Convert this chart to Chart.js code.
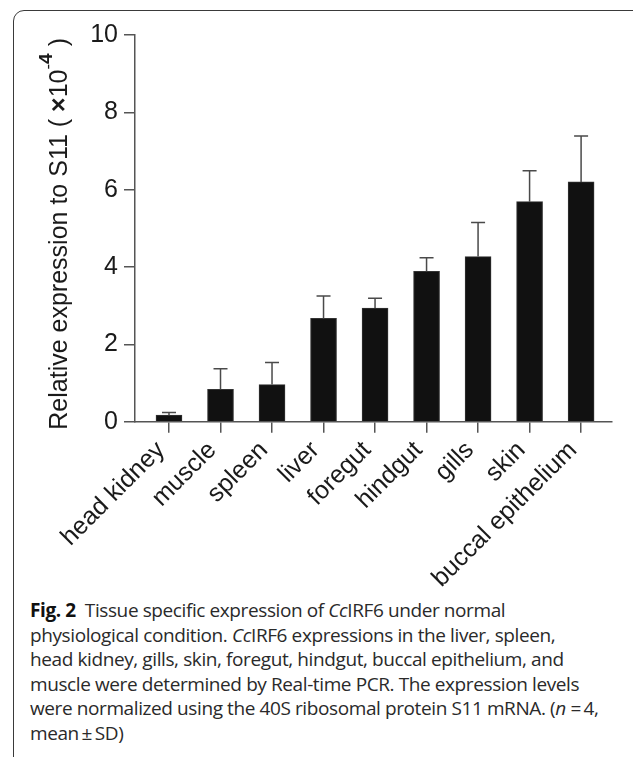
<!DOCTYPE html>
<html>
<head>
<meta charset="utf-8">
<script src="https://cdn.jsdelivr.net/npm/chart.js@4.4.1/dist/chart.umd.min.js"></script>
<style>
  html, body { margin: 0; padding: 0; background: #fff; width: 633px; height: 757px; overflow: hidden; }
  #frame { position: absolute; left: 13px; top: 10px; width: 640px; height: 820px; border: 1.5px solid #3a3a3a; border-radius: 11px; box-sizing: border-box; }
  #chart { position: absolute; left: 0; top: 0; }
  #caption { position: absolute; left: 30px; top: 598px; font-family: "Open Sans", sans-serif; font-size: 19px; line-height: 24.5px; color: #2a2a2a; letter-spacing: -0.4px; white-space: nowrap; }
  #caption b { color: #111; }
</style>
</head>
<body>
<div id="frame"></div>
<canvas id="chart" width="633" height="590"></canvas>
<div id="caption">
  <b>Fig. 2</b>&nbsp; Tissue specific expression of <i>Cc</i>IRF6 under normal<br>
  physiological condition. <i>Cc</i>IRF6 expressions in the liver, spleen,<br>
  head kidney, gills, skin, foregut, hindgut, buccal epithelium, and<br>
  muscle were determined by Real-time PCR. The expression levels<br>
  were normalized using the 40S ribosomal protein S11 mRNA. (<i>n</i> =&thinsp;4,<br>
  mean&thinsp;±&thinsp;SD)
</div>
<script>
// datos
const tissues = ['head kidney', 'muscle', 'spleen', 'liver', 'foregut', 'hindgut', 'gills', 'skin', 'buccal epithelium'];
const means = [0.17, 0.84, 0.96, 2.67, 2.94, 3.89, 4.27, 5.69, 6.20];
const sds = [0.07, 0.53, 0.57, 0.58, 0.25, 0.35, 0.88, 0.80, 1.19];
const yTicks = [0, 2, 4, 6, 8, 10];

const axisColor = '#555';
const textColor = '#1a1a1a';
const font25 = { family: 'Liberation Sans', size: 25 };

// barras de error (solo hacia arriba)
const errorBars = {
    id: 'errorBars',
    afterDatasetsDraw(chart) {
        const { ctx, scales: { y } } = chart;
        const meta = chart.getDatasetMeta(0);
        ctx.save();
        ctx.strokeStyle = '#4a4a4a';
        ctx.lineWidth = 1.5;
        meta.data.forEach((bar, i) => {
            const top = y.getPixelForValue(means[i] + sds[i]);
            ctx.beginPath();
            ctx.moveTo(bar.x, bar.y);
            ctx.lineTo(bar.x, top);
            ctx.moveTo(bar.x - 7, top);
            ctx.lineTo(bar.x + 7, top);
            ctx.stroke();
        });
        ctx.restore();
    }
};

// título del eje Y con superíndice (×10^-4)
const yTitle = {
    id: 'yTitle',
    afterDraw(chart) {
        const { ctx, chartArea } = chart;
        const parts = [
            { t: 'Relative expression to S11 ( ', f: '25px "Liberation Sans"', dy: 0 },
            { t: '×', f: 'bold 25px "Liberation Sans"', dy: 0 },
            { t: '10', f: '25px "Liberation Sans"', dy: 0 },
            { t: '-', f: '17px "Liberation Sans"', dy: -12 },
            { t: '4', f: 'bold 19px "Liberation Sans"', dy: -13 },
            { t: ' )', f: '25px "Liberation Sans"', dy: 0 }
        ];
        ctx.save();
        ctx.translate(60, chartArea.bottom + 8);
        ctx.rotate(-Math.PI / 2);
        ctx.fillStyle = textColor;
        ctx.textBaseline = 'middle';
        ctx.textAlign = 'left';
        let x = 0;
        parts.forEach(p => {
            ctx.font = p.f;
            ctx.fillText(p.t, x, p.dy);
            x += ctx.measureText(p.t).width;
        });
        ctx.restore();
    }
};

new Chart(document.getElementById('chart'), {
    type: 'bar',
    data: {
        datasets: [{
            data: means.map((m, i) => ({ x: i, y: m })),
            backgroundColor: '#111',
            borderColor: '#333',
            borderWidth: 1,
            barThickness: 26
        }]
    },
    options: {
        responsive: false,
        animation: false,
        layout: { padding: { left: 40, top: 35, right: 21, bottom: 0 } },
        plugins: { legend: { display: false }, tooltip: { enabled: false } },
        scales: {
            x: {
                type: 'linear',
                min: -0.66,
                max: 8.6,
                offset: false,
                afterBuildTicks: s => { s.ticks = tissues.map((_, i) => ({ value: i })); },
                afterFit: s => { s.height = 590 - 421.7; },
                ticks: {
                    callback: v => tissues[v],
                    font: font25,
                    color: textColor,
                    minRotation: 45,
                    maxRotation: 45,
                    autoSkip: false,
                    padding: 3,
                    labelOffset: -8
                },
                grid: { offset: false, drawOnChartArea: false, tickLength: 11, color: axisColor, lineWidth: 1.5 },
                border: { color: axisColor, width: 1.5 }
            },
            y: {
                min: 0,
                max: 10,
                afterBuildTicks: s => { s.ticks = yTicks.map(v => ({ value: v })); },
                afterFit: s => { s.width = 95; },
                ticks: { font: font25, color: textColor, padding: 6 },
                grid: { drawOnChartArea: false, tickLength: 11, color: axisColor, lineWidth: 1.5 },
                border: { color: axisColor, width: 1.5 }
            }
        }
    },
    plugins: [errorBars, yTitle]
});
</script>
</body>
</html>
